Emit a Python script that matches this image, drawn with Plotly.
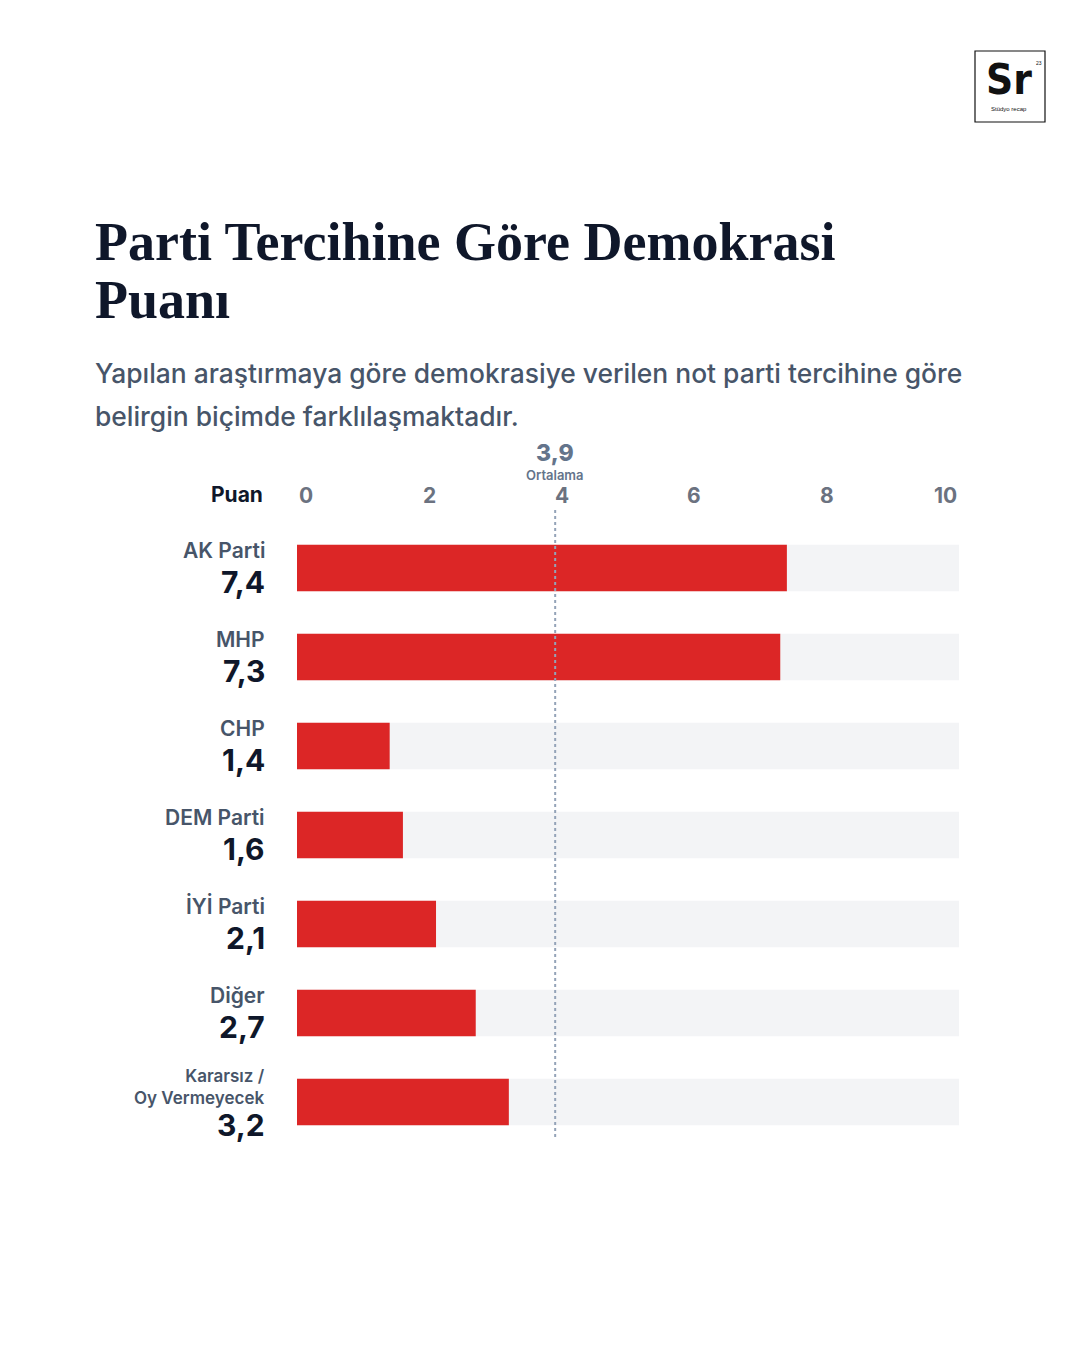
import plotly.graph_objects as go

# ---- data ----
parties = ["AK Parti", "MHP", "CHP", "DEM Parti", "İYİ Parti", "Diğer", "Kararsız /<br>Oy Vermeyecek"]
scores = [7.4, 7.3, 1.4, 1.6, 2.1, 2.7, 3.2]
score_labels = ["7,4", "7,3", "1,4", "1,6", "2,1", "2,7", "3,2"]
average = 3.9
average_label = "3,9"
axis_max = 10
tick_values = [0, 2, 4, 6, 8, 10]
tick_text = ["0", "2", "4", "6", "8", "10"]

title_lines = ["Parti Tercihine Göre Demokrasi", "Puanı"]
subtitle_lines = ["Yapılan araştırmaya göre demokrasiye verilen not parti tercihine göre",
                  "belirgin biçimde farklılaşmaktadır."]

# ---- styles ----
W, H = 1080, 1350
RED = "#dc2626"
TRACK = "#f3f4f6"
NAVY = "#0f172a"
SLATE = "#475569"
TICK = "#6b7280"
AVG_C = "#94a3b8"
SANS = "Inter, 'Noto Sans', sans-serif"


def px_y(py):
    return 1 - py / H


def px_x(px):
    return px / W


fig = go.Figure()
fig.add_trace(go.Bar(
    y=list(range(len(parties))), x=[axis_max] * len(parties), orientation="h",
    marker=dict(color=TRACK, line=dict(width=0)), width=0.52, hoverinfo="skip"))
fig.add_trace(go.Bar(
    y=list(range(len(parties))), x=scores, orientation="h",
    marker=dict(color=RED, line=dict(width=0)), width=0.52, hoverinfo="skip"))

ann = []
# title
for i, t in enumerate(title_lines):
    ann.append(dict(text=t, x=px_x(93), y=px_y(242 + 58 * i), xref="paper", yref="paper",
                    xanchor="left", yanchor="middle", showarrow=False,
                    font=dict(family="'Liberation Serif', serif", size=54, color=NAVY, weight=700)))
for i, t in enumerate(subtitle_lines):
    ann.append(dict(text=t, x=px_x(93), y=px_y(373 + 43 * i), xref="paper", yref="paper",
                    xanchor="left", yanchor="middle", showarrow=False,
                    font=dict(family=SANS, size=26.4, color=SLATE, weight=500)))

# axis header
ann.append(dict(text="Puan", x=px_x(265), y=px_y(494), xref="paper", yref="paper",
                xanchor="right", yanchor="middle", showarrow=False,
                font=dict(family=SANS, size=21, color=NAVY, weight=700)))
for v, t in zip(tick_values, tick_text):
    anchor = "left" if v == tick_values[0] else ("right" if v == tick_values[-1] else "center")
    ann.append(dict(text=t, x=v, y=px_y(495), xref="x", yref="paper",
                    xanchor=anchor, yanchor="middle", showarrow=False,
                    font=dict(family=SANS, size=21, color=TICK, weight=700)))
ann.append(dict(text=average_label, x=average, y=px_y(453), xref="x", yref="paper",
                xanchor="center", yanchor="middle", showarrow=False,
                font=dict(family=SANS, size=23, color="#64748b", weight=800)))
ann.append(dict(text="Ortalama", x=average, y=px_y(475), xref="x", yref="paper",
                xanchor="center", yanchor="middle", showarrow=False,
                font=dict(family=SANS, size=13, color="#64748b", weight=600)))

# category labels
for i, (p, s) in enumerate(zip(parties, score_labels)):
    multi = "<br>" in p
    ann.append(dict(text=p, x=px_x(267), y=i, xref="paper", yref="y",
                    xanchor="right", yanchor="middle", align="right", showarrow=False,
                    yshift=15 if multi else 18,
                    font=dict(family=SANS, size=17 if multi else 21, color=SLATE, weight=600)))
    ann.append(dict(text=s, x=px_x(267), y=i, xref="paper", yref="y",
                    xanchor="right", yanchor="middle", showarrow=False,
                    yshift=-23 if multi else -14,
                    font=dict(family=SANS, size=30, color=NAVY, weight=700)))

# logo
ann.append(dict(text="Sr", x=px_x(1009), y=px_y(80), xref="paper", yref="paper",
                xanchor="center", yanchor="middle", showarrow=False,
                font=dict(family="'DejaVu Sans Condensed', 'Liberation Sans Narrow', sans-serif",
                          size=42, color="#111111", weight=700)))
ann.append(dict(text="23", x=px_x(1034), y=px_y(63), xref="paper", yref="paper",
                xanchor="left", yanchor="middle", showarrow=False,
                font=dict(family="'Liberation Sans', sans-serif", size=5, color="#111111")))
ann.append(dict(text="Stüdyo recap", x=px_x(1009), y=px_y(109), xref="paper", yref="paper",
                xanchor="center", yanchor="middle", showarrow=False,
                font=dict(family="'Liberation Sans', sans-serif", size=6, color="#111111")))

shapes = [
    dict(type="line", xref="x", yref="paper", x0=average, x1=average,
         y0=px_y(510), y1=px_y(1140), line=dict(color=AVG_C, width=2, dash="dot"), layer="above"),
    dict(type="rect", xref="paper", yref="paper", x0=px_x(975), x1=px_x(1045),
         y0=px_y(122), y1=px_y(51), line=dict(color="#111111", width=1.2), fillcolor="white"),
]

fig.update_layout(
    width=W, height=H, margin=dict(l=0, r=0, t=0, b=0),
    paper_bgcolor="white", plot_bgcolor="white",
    barmode="overlay", showlegend=False,
    xaxis=dict(domain=[px_x(297), px_x(959)], range=[0, axis_max], visible=False, fixedrange=True),
    yaxis=dict(domain=[px_y(1146.5), px_y(523.5)], range=[len(parties) - 0.5, -0.5],
               visible=False, fixedrange=True),
    annotations=ann, shapes=shapes,
)

fig.write_html("out.html", config={"displayModeBar": False},
               post_script="document.body.style.margin='0';")
